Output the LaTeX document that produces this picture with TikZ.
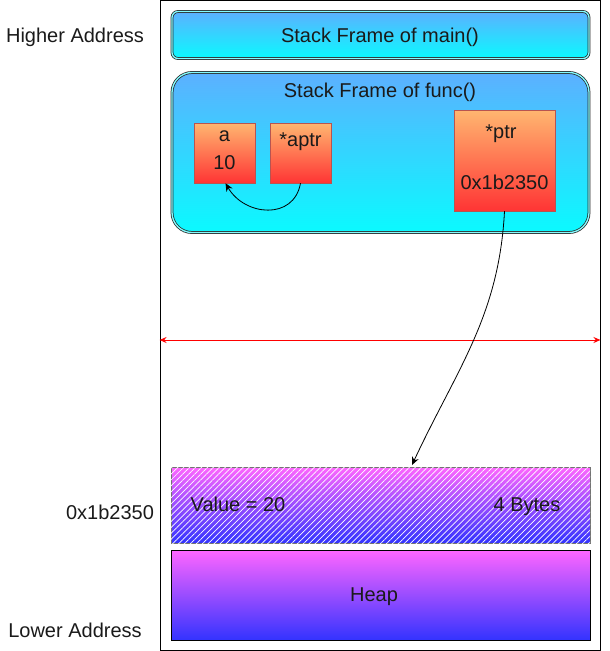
\documentclass[tikz,border=0pt]{standalone}
\usepackage{fontspec}
\setmainfont{Liberation Sans}
\usetikzlibrary{arrows.meta,patterns.meta}

\definecolor{skytop}{RGB}{92,176,255}
\definecolor{skybot}{RGB}{10,250,255}
\definecolor{redtop}{RGB}{255,182,112}
\definecolor{redbot}{RGB}{255,52,52}
\definecolor{redline}{RGB}{184,84,80}
\definecolor{heaptop}{RGB}{255,102,255}
\definecolor{heapbot}{RGB}{51,51,255}
\definecolor{txt}{RGB}{26,26,26}

\begin{document}
\begin{tikzpicture}[x=1pt, y=-1pt,
    font=\fontsize{20}{23}\selectfont, text=txt,
    frame/.style={draw=black!85, line width=0.75pt, double=skybot!50, double distance=1.3pt,
        top color=skytop, bottom color=skybot, inner sep=0pt, minimum width=417pt},
    var/.style={draw=redline, top color=redtop, bottom color=redbot, inner sep=0pt},
    heapbox/.style={top color=heaptop, bottom color=heapbot, inner sep=0pt,
        minimum width=419pt},
    ptrarrow/.style={-{Stealth[length=8pt,width=7pt]}, black, line width=0.8pt}]
    \useasboundingbox (0,0) rectangle (610,651);

    % memory column
    \node[draw, line width=0.9pt, minimum width=440pt, minimum height=650pt, inner sep=0pt] (memory) at (380,325) {};
    \node (high) at (75,37) {Higher Address};
    \node (addr) at (110,512) {0x1b2350};
    \node (low) at (75,630) {Lower Address};

    % stack frames
    \node[frame, rounded corners=6pt, minimum height=47pt] (mainframe) at (380.5,35) {};
    \node (maintitle) at (380,37) {Stack Frame of main()};
    \node[frame, rounded corners=20pt, minimum height=160pt] (funcframe) at (380.5,152.5) {};
    \node (functitle) at (380,92) {Stack Frame of func()};

    \node[var, minimum width=61pt, minimum height=60pt] (a) at (224.5,153) {};
    \node at (224.5,136) {a};
    \node at (224.5,163) {10};
    \node[var, minimum width=61pt, minimum height=60pt] (aptr) at (300.5,153) {};
    \node at (300.5,142) {*aptr};
    \node[var, minimum width=101pt, minimum height=101pt] (ptr) at (504.5,160.5) {};
    \node at (501,134) {*ptr};
    \node at (504.5,182) {0x1b2350};

    % boundary between stack and heap
    \coordinate (leftend) at (memory.west |- 0,340);
    \coordinate (rightend) at (memory.east |- 0,340);
    \draw[{Stealth[length=7pt,width=6pt]}-{Stealth[length=7pt,width=6pt]}, red, line width=1pt] (leftend) -- (rightend);

    % heap
    \node[heapbox, draw=black!55, line width=0.8pt, minimum height=76pt,
        postaction={pattern={Lines[angle=45,distance=4.2pt,line width=0.7pt]}, pattern color=white!85}] (value) at (380.5,505) {};
    \node[anchor=base] at (238,511) {Value = 20};
    \node[anchor=base] at (527,511) {4 Bytes};
    \node[heapbox, draw=black, line width=0.8pt, minimum height=90pt] (heap) at (380.5,595) {};
    \node at (374,597) {Heap};

    % pointers
    \draw[ptrarrow] (aptr.south) to[out=-100, in=-60, looseness=1.3] ([xshift=1pt]a.south);
    \coordinate (target) at (412,465);
    \draw[ptrarrow] (ptr.south) to[out=-93, in=65] (target);
\end{tikzpicture}
\end{document}
